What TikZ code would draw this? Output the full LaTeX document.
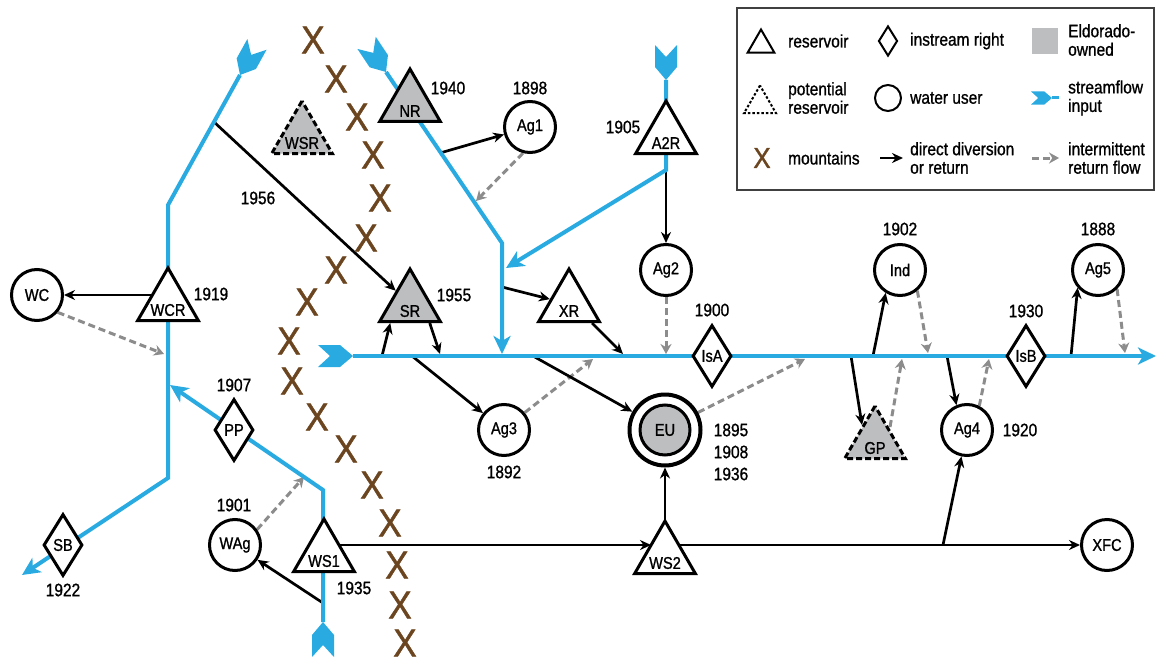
\documentclass[tikz,border=0pt]{standalone}
\usepackage{fontspec}
\setmainfont{Liberation Sans}[FakeStretch=0.86,FakeBold=1.0]
\newfontfamily\xfont{Liberation Sans}[FakeStretch=0.9,FakeBold=1.2]
\usetikzlibrary{shapes.geometric,arrows.meta,backgrounds,calc}
\definecolor{riverblue}{RGB}{41,171,226}
\definecolor{mtn}{RGB}{107,69,31}
\definecolor{eld}{RGB}{188,190,192}
\definecolor{retgray}{RGB}{140,140,140}
\begin{document}
\begin{tikzpicture}[x=1pt,y=-1pt, font=\fontsize{18}{20}\selectfont,
 tri/.style={regular polygon, regular polygon sides=3, minimum size=70pt, inner sep=0pt, draw, line width=3pt, fill=white},
 eldtri/.style={tri, fill=eld},
 pottri/.style={tri, fill=eld, dash pattern=on 6pt off 3pt},
 tlabel/.style={font=\fontsize{17}{17}\selectfont, inner sep=0pt},
 user/.style={circle, draw, line width=3pt, fill=white, minimum size=51pt, inner sep=0pt, font=\fontsize{17}{17}\selectfont},
 instream/.style={diamond, draw, line width=3pt, fill=white, minimum width=39pt, minimum height=62pt, inner sep=0pt, font=\fontsize{17}{17}\selectfont},
 yr/.style={inner sep=0pt},
 mtnx/.style={text=mtn, font=\xfont\fontsize{39}{39}\selectfont, inner sep=0pt},
 river/.style={riverblue, line width=4pt},
 rivend/.style={river, -{Stealth[length=18pt,width=17pt,inset=5pt]}},
 dir/.style={line width=2.7pt, -{Stealth[length=11pt,width=10pt]}},
 ret/.style={retgray, line width=3pt, dash pattern=on 7pt off 4pt, -{Stealth[length=10pt,width=11pt]}},
 legtxt/.style={anchor=west, align=left, inner sep=0pt, font=\fontsize{18}{18.5}\selectfont},
 inflow/.pic={\fill[riverblue] (-35,-11) -- (-13,-11) -- (0,0) -- (-13,11) -- (-35,11) -- (-23,0) -- cycle;}
]
\useasboundingbox (0,0) rectangle (1156,666);

% ---------- mountains ----------
\foreach \mx/\my [count=\i] in {313/40,336/79,357/117,373/155,380/198,366/238,336/270,307/302,289/341,292/381,317/417,346/449,372/485,390/523,397/565,400/605,405/643}
  \node[mtnx] (mx\i) at (\mx,\my) {X};

% ---------- nodes ----------
\node[tri, label={[tlabel,yshift=-7pt]center:WCR}] (WCR) at (168,303) {};
\node[tri, label={[tlabel,yshift=-7pt]center:WS1}] (WS1) at (324,554) {};
\node[tri, label={[tlabel,yshift=-7pt]center:WS2}] (WS2) at (665,556) {};
\node[tri, label={[tlabel,yshift=-7pt]center:A2R}] (A2R) at (666,136) {};
\node[tri, label={[tlabel,yshift=-7pt]center:XR}] (XR) at (569,304) {};
\node[eldtri, label={[tlabel,yshift=-7pt]center:NR}] (NR) at (410,104) {};
\node[eldtri, label={[tlabel,yshift=-7pt]center:SR}] (SR) at (410,304) {};
\node[pottri, label={[tlabel,yshift=-7pt]center:WSR}] (WSR) at (302,136) {};
\node[pottri, label={[tlabel,yshift=-7pt]center:GP}] (GP) at (875,441) {};

\node[user] (WC) at (37,295) {WC};
\node[user] (WAg) at (235,545) {WAg};
\node[user] (Ag1) at (530,127) {Ag1};
\node[user] (Ag2) at (666,270) {Ag2};
\node[user] (Ag3) at (504,430) {Ag3};
\node[user] (Ind) at (900,270) {Ind};
\node[user] (Ag5) at (1098,270) {Ag5};
\node[user] (Ag4) at (967,430) {Ag4};
\node[user] (XFC) at (1107,545) {XFC};
\node[circle, draw, line width=4pt, fill=white, minimum size=71pt, inner sep=0pt] (EUo) at (665,430) {};
\node[user, fill=eld, minimum size=50pt] (EU) at (665,430) {EU};

\node[instream] (SB) at (63,545) {SB};
\node[instream] (PP) at (234,430) {PP};
\node[instream] (IsA) at (712,356) {IsA};
\node[instream] (IsB) at (1026,356) {IsB};

% ---------- years ----------
\node[yr] (y1919) at (211,294) {1919};
\node[yr] (y1922) at (63,590) {1922};
\node[yr] (y1907) at (234,385) {1907};
\node[yr] (y1901) at (234,505) {1901};
\node[yr] (y1935) at (354,588) {1935};
\node[yr] (y1956) at (258,198) {1956};
\node[yr] (y1940) at (448,88) {1940};
\node[yr] (y1898) at (530,88) {1898};
\node[yr] (y1905) at (623,127) {1905};
\node[yr] (y1955) at (454,295) {1955};
\node[yr] (y1900) at (712,310) {1900};
\node[yr] (y1892) at (504,472) {1892};
\node[yr, align=left, font=\fontsize{18}{22}\selectfont] (yEU) at (731,452) {1895\\1908\\1936};
\node[yr] (y1902) at (900,229) {1902};
\node[yr] (y1888) at (1098,229) {1888};
\node[yr] (y1930) at (1026,311) {1930};
\node[yr] (y1920) at (1020,430) {1920};

% ---------- river coordinates ----------
\coordinate (inLtip) at (240,75);
\coordinate (bL1) at (168,205);
\coordinate (bL2) at (168,478);
\coordinate (outSB) at (22,575);
\coordinate (j56) at (214,122);
\coordinate (wcin) at (164,354);
\coordinate (inBtip) at (323,622);
\coordinate (bP) at (323,490);
\coordinate (ppin) at (170,385);
\coordinate (wsout) at (323,603);
\coordinate (wagin) at (304,477);
\coordinate (inNtip) at (386,72);
\coordinate (bN) at (502,243);
\coordinate (nrin) at (502,354);
\coordinate (j1) at (440,153);
\coordinate (ag1in) at (476,201);
\coordinate (inAtip) at (666,80);
\coordinate (bA) at (666,170);
\coordinate (a2rin) at (506,268);
\coordinate (jxr) at (502,287);
\coordinate (inMtip) at (353,356);
\coordinate (outM) at (1156,356);
\coordinate (rSRup) at (382,356);
\coordinate (rSRdn) at (440,354);
\coordinate (rAg3) at (412,356);
\coordinate (rAg3r) at (593,359);
\coordinate (rEU) at (533,356);
\coordinate (rEUr) at (805,359);
\coordinate (rXR) at (623,354);
\coordinate (rInd) at (873,356);
\coordinate (rIndr) at (928,353);
\coordinate (rGP) at (851,356);
\coordinate (rGPr) at (902,359);
\coordinate (rAg4) at (947,356);
\coordinate (rAg4r) at (989,359);
\coordinate (rAg5) at (1071,356);
\coordinate (rAg5r) at (1125,353);
\coordinate (ws2l) at (651,545);
\coordinate (j4) at (943,545);

\begin{pgfonlayer}{background}
% connectors
\draw[dir] (WCR.center |- WC.east) -- (WC.east);
\draw[ret] (WC.-40) -- (wcin);
\draw[dir] (j56) -- (SR);
\draw[dir] (j1) -- (Ag1);
\draw[ret] (Ag1.-105) -- (ag1in);
\draw[dir] (bA) -- (Ag2);
\draw[ret] (Ag2) -- (Ag2 |- nrin);
\draw[dir] (jxr) -- (XR);
\draw[dir] ($(XR.corner 2)!0.85!(XR.corner 3)$) -- (rXR);
\draw[dir] (rSRup) -- ($(SR.corner 2)!0.2!(SR.corner 3)$);
\draw[dir] ($(SR.corner 2)!0.8!(SR.corner 3)$) -- (rSRdn);
\draw[dir] (rAg3) -- (Ag3);
\draw[ret] (Ag3.40) -- (rAg3r);
\draw[dir] (rEU) -- (EUo);
\draw[ret] (EUo.28) -- (rEUr);
\draw[dir] (wsout) -- (WAg);
\draw[ret] (WAg.35) -- (wagin);
\draw[dir] (WS1.center |- XFC.west) -- (ws2l);
\draw[dir] (WS2.center) -- (EUo);
\draw[dir] (WS2.center |- XFC.west) -- (XFC.west);
\draw[dir] (j4) -- (Ag4);
\draw[dir] (rInd) -- (Ind.-122);
\draw[ret] (Ind.-50) -- (rIndr);
\draw[dir] (rGP) -- ([xshift=-13pt,yshift=16pt]GP.center);
\draw[ret] ([xshift=15pt,yshift=14pt]GP.center) -- (rGPr);
\draw[dir] (rAg4) -- (Ag4.113);
\draw[ret] (Ag4.63) -- (rAg4r);
\draw[dir] (rAg5) -- (Ag5.-139);
\draw[ret] (Ag5.-45) -- (rAg5r);
% rivers
\draw[rivend] (inLtip) -- (bL1) -- (bL2) -- (outSB);
\draw[rivend] (inBtip) -- (bP) -- (ppin);
\draw[rivend] (inNtip) -- (bN) -- (nrin);
\draw[rivend] (inAtip) -- (bA) -- (a2rin);
\draw[rivend] (inMtip) -- (outM);
\pic[rotate=241] at (inLtip) {inflow};
\pic[rotate=90] at (inBtip) {inflow};
\pic[rotate=-56.3] at (inNtip) {inflow};
\pic[rotate=-90] at (inAtip) {inflow};
\pic at (inMtip) {inflow};
\end{pgfonlayer}

% ---------- legend ----------
\draw[line width=1.5pt, draw=black!75] (737,8) rectangle (1154,190);
\node[regular polygon, regular polygon sides=3, minimum size=31pt, inner sep=0pt, draw, line width=2pt] (Lres) at (761,45) {};
\node[legtxt] (Lrest) at (788,41) {reservoir};
\node[regular polygon, regular polygon sides=3, minimum size=37pt, inner sep=0pt, draw, line width=2pt, dash pattern=on 2.5pt off 2pt] (Lpot) at (760,104) {};
\node[legtxt] (Lpott) at (788,98) {potential\\reservoir};
\node[mtnx, font=\xfont\fontsize{29}{29}\selectfont] (Lmtn) at (762,158) {X};
\node[legtxt] (Lmtnt) at (788,158) {mountains};
\node[diamond, draw, line width=2pt, minimum width=19pt, minimum height=30pt, inner sep=0pt] (Lins) at (888,41) {};
\node[legtxt] (Linst) at (910,41) {instream right};
\node[circle, draw, line width=2pt, minimum size=26pt, inner sep=0pt] (Luser) at (888,98) {};
\node[legtxt] (Lusert) at (910,98) {water user};
\coordinate (Ldira) at (880,158);
\coordinate (Ldirb) at (903,158);
\draw[dir] (Ldira) -- (Ldirb);
\node[legtxt] (Ldirt) at (910,158) {direct diversion\\or return};
\node[fill=eld, minimum size=26pt, inner sep=0pt] (Leld) at (1045,41) {};
\node[legtxt] (Leldt) at (1068,40) {Eldorado-\\owned};
\coordinate (Lina) at (1052,98);
\coordinate (Linb) at (1059,98);
\draw[river, line width=3pt] (Lina) -- (Linb);
\pic[scale=0.6] at (Lina) {inflow};
\node[legtxt] (Lint) at (1068,98) {streamflow\\input};
\coordinate (Lreta) at (1032,158);
\coordinate (Lretb) at (1059,158);
\draw[ret] (Lreta) -- (Lretb);
\node[legtxt] (Lrett) at (1068,158) {intermittent\\return flow};
\end{tikzpicture}
\end{document}
